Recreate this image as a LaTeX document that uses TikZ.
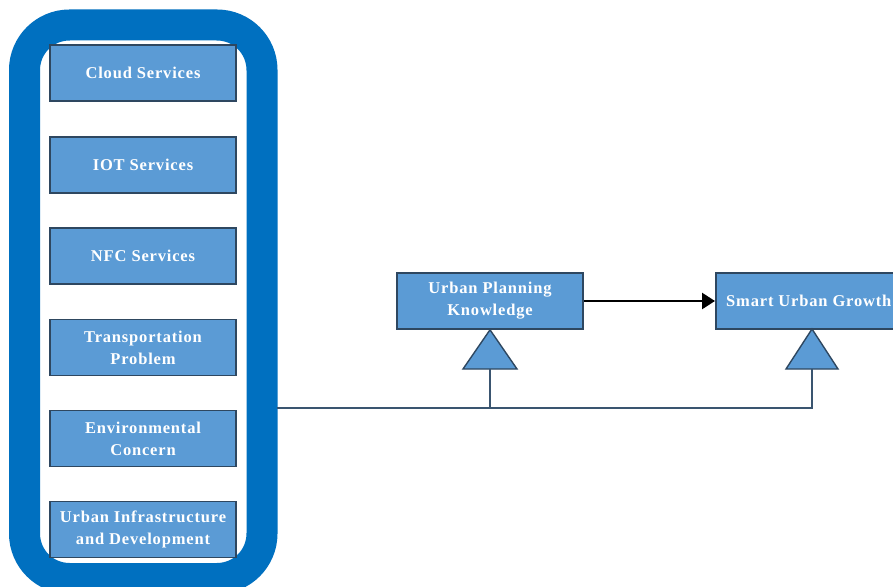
\documentclass[tikz,border=0pt]{standalone}
\usepackage{fontspec}
\setmainfont{Liberation Serif}
\usetikzlibrary{arrows.meta}
\definecolor{band}{HTML}{0070C0}
\definecolor{boxfill}{HTML}{5B9BD5}
\definecolor{boxline}{HTML}{2E4760}
\definecolor{linecol}{HTML}{3A5570}
\tikzset{
  blk/.style={draw=boxline, line width=1.6pt, fill=boxfill, minimum width=186pt, minimum height=56pt,
    inner sep=0pt, align=center, text=white,
    font=\fontsize{16.5}{22}\selectfont\bfseries\addfontfeatures{LetterSpace=5}},
  tri/.style={draw=boxline, line width=1.4pt, fill=boxfill},
  conn/.style={draw=linecol, line width=1.6pt},
}
\begin{document}
\begin{tikzpicture}[x=1pt,y=-1pt]
\useasboundingbox (0,0) rectangle (893,586);
\fill[white] (0,0) rectangle (893,586);
% container
\draw[band, line width=31pt, rounded corners=45pt] (24.5,25) rectangle (262,578.5);
\coordinate (panelR) at (277,408);
% left boxes
\node[blk] (cloud) at (143,73) {Cloud Services};
\node[blk] (iot) at (143,165) {IOT Services};
\node[blk] (nfc) at (143,256) {NFC Services};
\node[blk] (trans) at (143,347.5) {Transportation\\Problem};
\node[blk] (env) at (143,438.5) {Environmental\\Concern};
\node[blk] (infra) at (143,529.5) {Urban Infrastructure\\and Development};
% right boxes
\node[blk] (upk) at (490,301) {Urban Planning\\Knowledge};
\node[blk, minimum width=200pt, anchor=west] (sug) at (715,301) {\hspace*{-14pt}Smart Urban Growth};
% triangles
\draw[tri] (upk.south) -- (463,369) -- (517,369) -- cycle;
\coordinate (tb1) at (490,369);
\draw[tri] (812,329) -- (786,369) -- (838,369) -- cycle;
\coordinate (tb2) at (812,369);
% connectors
\draw[conn] (panelR) -| (tb2);
\draw[conn] (tb1 |- panelR) -- (tb1);
\draw[black, line width=2.6pt, -{Triangle[length=13pt,width=16pt]}] (upk.east) -- (sug.west);
\end{tikzpicture}
\end{document}
